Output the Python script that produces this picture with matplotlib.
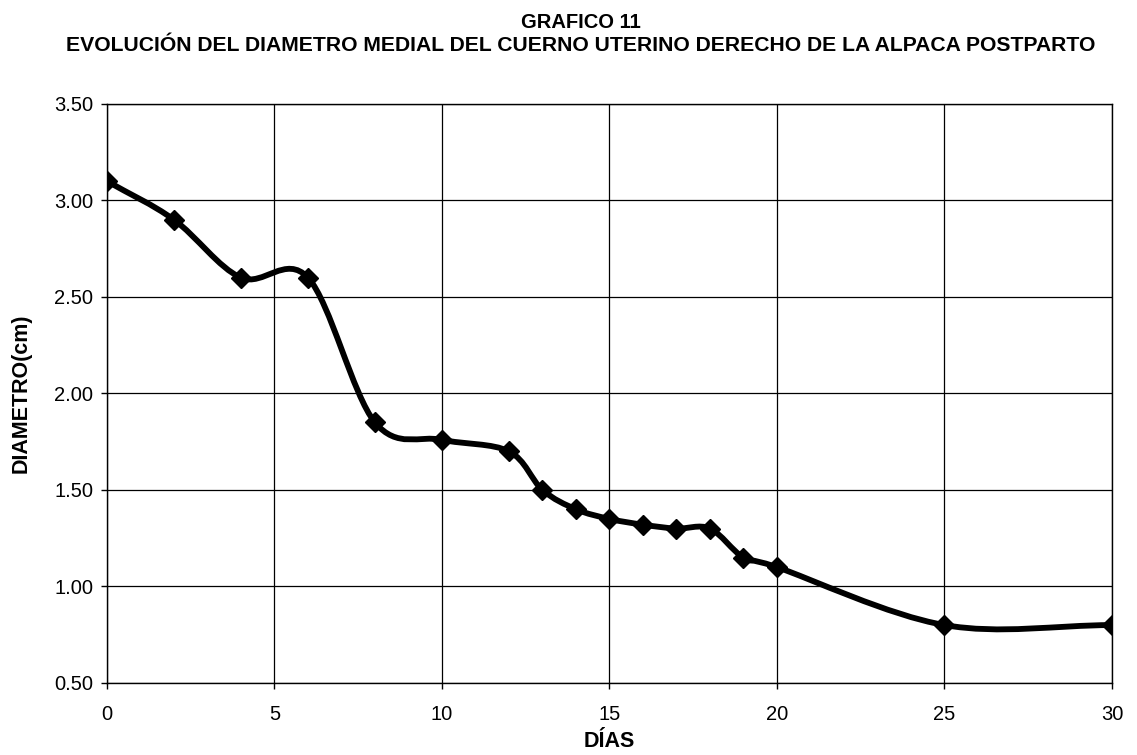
import matplotlib
matplotlib.use('Agg')
import matplotlib.pyplot as plt
from matplotlib.path import Path
from matplotlib.patches import PathPatch
import numpy as np

plt.rcParams['font.family'] = ['Liberation Sans', 'DejaVu Sans']

dias = [0, 2, 4, 6, 8, 10, 12, 13, 14, 15, 16, 17, 18, 19, 20, 25, 30]
diametro = [3.10, 2.90, 2.60, 2.60, 1.85, 1.76, 1.70, 1.50, 1.40, 1.35,
            1.32, 1.30, 1.30, 1.15, 1.10, 0.80, 0.80]
x_ticks = [0, 5, 10, 15, 20, 25, 30]
y_ticks = [0.5, 1.0, 1.5, 2.0, 2.5, 3.0, 3.5]
titulo1 = 'GRAFICO 11'
titulo2 = 'EVOLUCIÓN DEL DIAMETRO MEDIAL DEL CUERNO UTERINO DERECHO DE LA ALPACA POSTPARTO'


def smooth_path(xs, ys):
    # bezier smoothing like the spreadsheet "smoothed line" option
    p = np.column_stack([xs, ys]).astype(float)
    n = len(p)
    verts = [p[0]]
    codes = [Path.MOVETO]
    for i in range(n - 1):
        prev = p[i - 1] if i > 0 else p[i]
        nxt = p[i + 2] if i + 2 < n else p[i + 1]
        if i == 0:
            c1 = p[0] + (p[1] - p[0]) / 3
        else:
            c1 = p[i] + (p[i + 1] - prev) / 6
        if i + 2 >= n:
            c2 = p[i + 1] - (p[i + 1] - p[i]) / 3
        else:
            c2 = p[i + 1] - (nxt - p[i]) / 6
        verts += [c1, c2, p[i + 1]]
        codes += [Path.CURVE4] * 3
    return Path(verts, codes)


fig = plt.figure(figsize=(11.37, 7.55), dpi=100)
ax = fig.add_axes([0.0941, 0.0954, 0.8839, 0.7669])

ax.add_patch(PathPatch(smooth_path(dias, diametro), facecolor='none',
                       edgecolor='black', lw=4.2, zorder=3))
ax.plot(dias, diametro, ls='none', marker='D', ms=10, color='black', zorder=4)

ax.set_xlim(0, 30)
ax.set_ylim(0.5, 3.5)
ax.set_xticks(x_ticks)
ax.set_yticks(y_ticks)
ax.set_yticklabels([f'{v:.2f}' for v in y_ticks])
ax.grid(True, color='black', lw=0.9)
ax.set_axisbelow(True)
for s in ax.spines.values():
    s.set_color('black')
    s.set_linewidth(1.0)
ax.tick_params(axis='both', direction='out', length=4, width=1, labelsize=14.5, colors='black')
ax.tick_params(axis='x', pad=12)
ax.tick_params(axis='y', pad=6)

ax.set_xlabel('DÍAS', fontsize=15.5, fontweight='bold', labelpad=5)
ax.set_ylabel('DIAMETRO(cm)', fontsize=15.5, fontweight='bold', labelpad=16)

fig.text(0.511, 0.9629, titulo1, ha='center', va='baseline', fontsize=14.5, fontweight='bold')
fig.text(0.511, 0.9325, titulo2, ha='center', va='baseline', fontsize=15.2, fontweight='bold')

plt.savefig('out.png', dpi=100)
